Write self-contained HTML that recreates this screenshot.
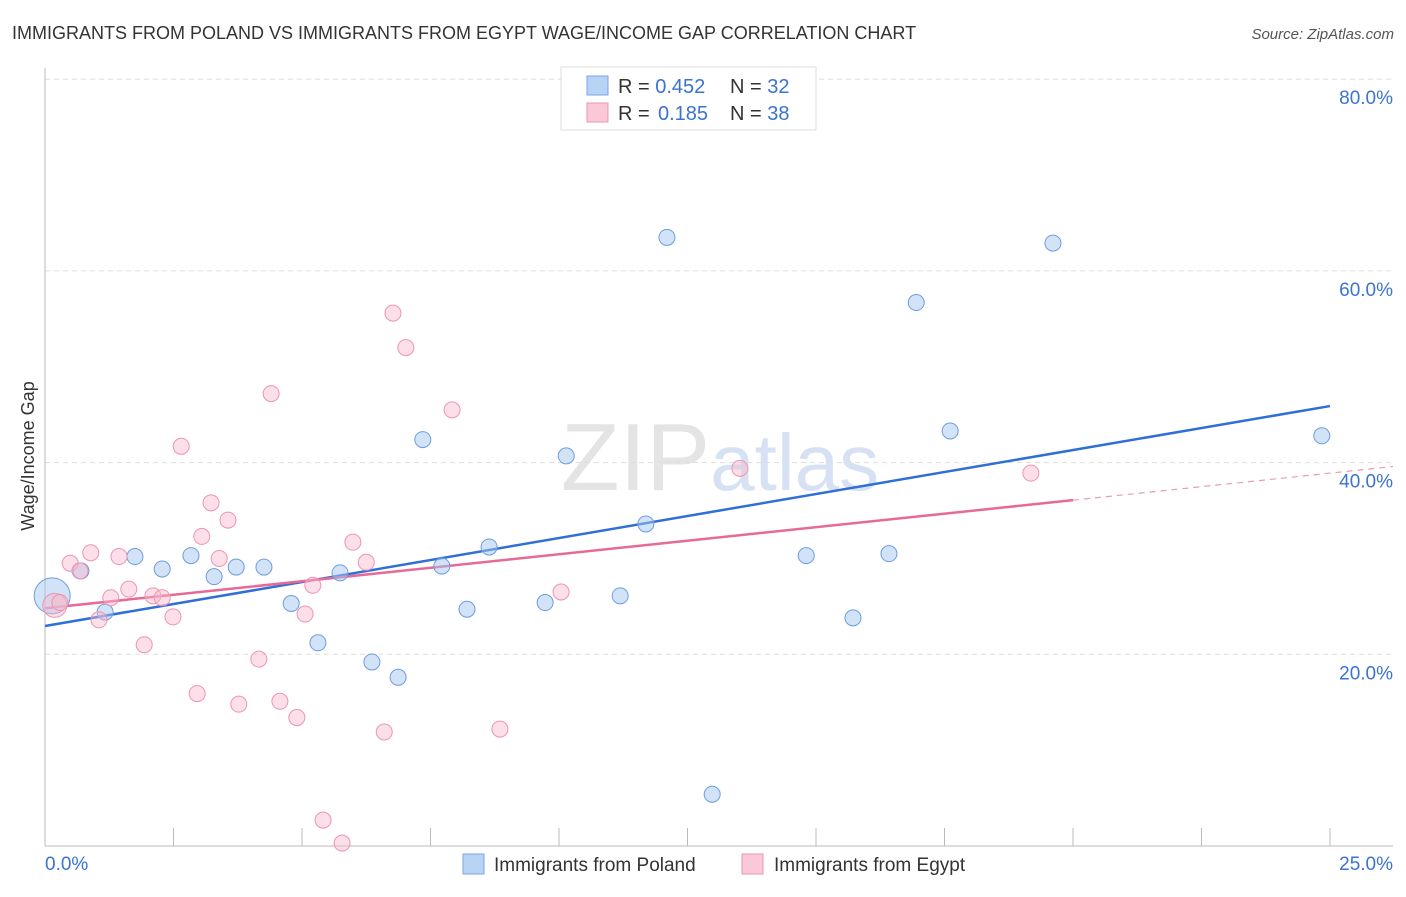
<!DOCTYPE html>
<html><head><meta charset="utf-8"><style>
body{margin:0;background:#fff;font-family:"Liberation Sans",sans-serif;}
svg text{font-family:"Liberation Sans",sans-serif;}
</style></head><body>
<svg id="chart" width="1406" height="892" xmlns="http://www.w3.org/2000/svg">
<text x="12" y="39" font-size="18" fill="#333">IMMIGRANTS FROM POLAND VS IMMIGRANTS FROM EGYPT WAGE/INCOME GAP CORRELATION CHART</text>
<text x="1394" y="39" font-size="15" fill="#555" font-style="italic" text-anchor="end">Source: ZipAtlas.com</text>
<text x="720" y="490" font-size="96" fill="#e4e4e4" text-anchor="middle" font-family="Liberation Serif"><tspan>ZIP</tspan><tspan fill="#d6e2f4" font-family="Liberation Sans" font-size="80">atlas</tspan></text>
<text transform="translate(34,456) rotate(-90)" font-size="18" fill="#333" text-anchor="middle">Wage/Income Gap</text>
<g id="grid"></g><g id="axes"></g><g id="trend"></g><g id="pts"></g>
<g>
<rect x="561" y="67" width="255" height="63" fill="#fff" stroke="#ddd"/>
<rect x="587" y="76" width="21" height="19" fill="#b9d3f5" stroke="#7aa6e3"/>
<rect x="587" y="103" width="21" height="19" fill="#fbc8d8" stroke="#ee95b1"/>
<text x="618" y="93" font-size="20" fill="#333">R = <tspan fill="#3a73d0">0.452</tspan><tspan x="730">N = </tspan><tspan fill="#3a73d0">32</tspan></text>
<text x="618" y="120" font-size="20" fill="#333">R = <tspan fill="#3a73d0" x="658">0.185</tspan><tspan x="730">N = </tspan><tspan fill="#3a73d0">38</tspan></text>
</g>
<g>
<rect x="463" y="854" width="21" height="20" fill="#b9d3f5" stroke="#7aa6e3"/>
<text x="494" y="871" font-size="19" fill="#333">Immigrants from Poland</text>
<rect x="742" y="854" width="21" height="20" fill="#fbc8d8" stroke="#ee95b1"/>
<text x="774" y="871" font-size="19" fill="#333">Immigrants from Egypt</text>
</g>
</svg>
<script>
const yTicks=[20,40,60,80];
const xTickLabels=["0.0%","25.0%"];
const polandX=[0.14,0.70,1.17,1.75,2.28,2.84,3.29,3.72,4.26,4.79,5.31,5.74,6.36,6.87,7.35,7.72,8.21,8.64,9.73,10.14,11.19,11.69,12.10,12.98,14.81,15.72,16.42,16.95,17.61,19.61,24.84];
const polandY=[26.1,28.7,24.4,30.2,28.9,30.3,28.1,29.1,29.1,25.3,21.2,28.5,19.2,17.6,42.4,29.2,24.7,31.2,25.4,40.7,26.1,33.6,63.5,5.4,30.3,23.8,30.5,56.7,43.3,62.9,42.8];
const egyptX=[0.19,0.29,0.49,0.68,0.89,1.05,1.28,1.44,1.63,1.93,2.10,2.28,2.49,2.65,2.96,3.05,3.23,3.39,3.56,3.77,4.16,4.40,4.57,4.90,5.06,5.21,5.41,5.78,5.99,6.25,6.60,6.77,7.02,7.92,8.85,10.04,13.52,19.18];
const egyptY=[25.1,25.4,29.5,28.7,30.6,23.6,25.9,30.2,26.8,21.0,26.1,25.9,23.9,41.7,15.9,32.3,35.8,30.0,34.0,14.8,19.5,47.2,15.1,13.4,24.2,27.2,2.7,0.3,31.7,29.6,11.9,55.6,52.0,45.5,12.2,26.5,39.4,38.9];
const polandTrend=[22.95,45.9]; // y at x=0 and x=25
const egyptTrend=[24.8,38.9];   // y at x=0 and x=25
const X=v=>45+v/25*1285, Y=v=>846-v/20*191.7;
const NS="http://www.w3.org/2000/svg";
function mk(p,t,a){const e=document.createElementNS(NS,t);for(const k in a)e.setAttribute(k,a[k]);document.getElementById(p).appendChild(e);return e;}
yTicks.forEach(t=>{
 const l=mk('grid','line',{x1:45,x2:1393,y1:Y(t),y2:Y(t),stroke:'#ddd','stroke-dasharray':'5,4'});
 
 
 const tx=mk('grid','text',{x:1393,y:Y(t)+25,'font-size':19,fill:'#3a73d0','text-anchor':'end'});tx.textContent=t.toFixed(1)+'%';
 
 
});
const ax=mk('axes','line',{x1:45,x2:45,y1:68,y2:846,stroke:'#bbb'});


const bx=mk('axes','line',{x1:45,x2:1393,y1:846,y2:846,stroke:'#bbb'});


for(let i=1;i<=10;i++){const t=mk('axes','line',{x1:X(i*2.5),x2:X(i*2.5),y1:828,y2:846,stroke:'#bbb'});
 
 }
const l0=mk('axes','text',{x:45,y:870,'font-size':19,fill:'#3a73d0'});l0.textContent=xTickLabels[0];


const l1=mk('axes','text',{x:1393,y:870,'font-size':19,fill:'#3a73d0','text-anchor':'end'});l1.textContent=xTickLabels[1];


const ty=(tr,x)=>tr[0]+(tr[1]-tr[0])*x/25;
const bt=mk('trend','line',{x1:X(0),y1:Y(ty(polandTrend,0)),x2:X(25),y2:Y(ty(polandTrend,25)),stroke:'#2f6fd6','stroke-width':2.5});


const pt=mk('trend','line',{x1:X(0),y1:Y(ty(egyptTrend,0)),x2:X(20),y2:Y(ty(egyptTrend,20)),stroke:'#e66a95','stroke-width':2.5});


const pd=mk('trend','line',{x1:X(20),y1:Y(ty(egyptTrend,20)),x2:1393,y2:Y(ty(egyptTrend,(1393-45)/1285*25)),stroke:'#e99ab5','stroke-width':1.2,'stroke-dasharray':'6,5'});


polandX.forEach((x,i)=>{const c=mk('pts','circle',{cx:X(x),cy:Y(polandY[i]),r:i==0?18:8,fill:'rgba(165,198,240,0.5)',stroke:'#6c9de0','stroke-width':1});
 
 });
egyptX.forEach((x,i)=>{const c=mk('pts','circle',{cx:X(x),cy:Y(egyptY[i]),r:i==0?12:8,fill:'rgba(248,183,205,0.45)',stroke:'#ec95b2','stroke-width':1});
 
 });
</script>
</body></html>
